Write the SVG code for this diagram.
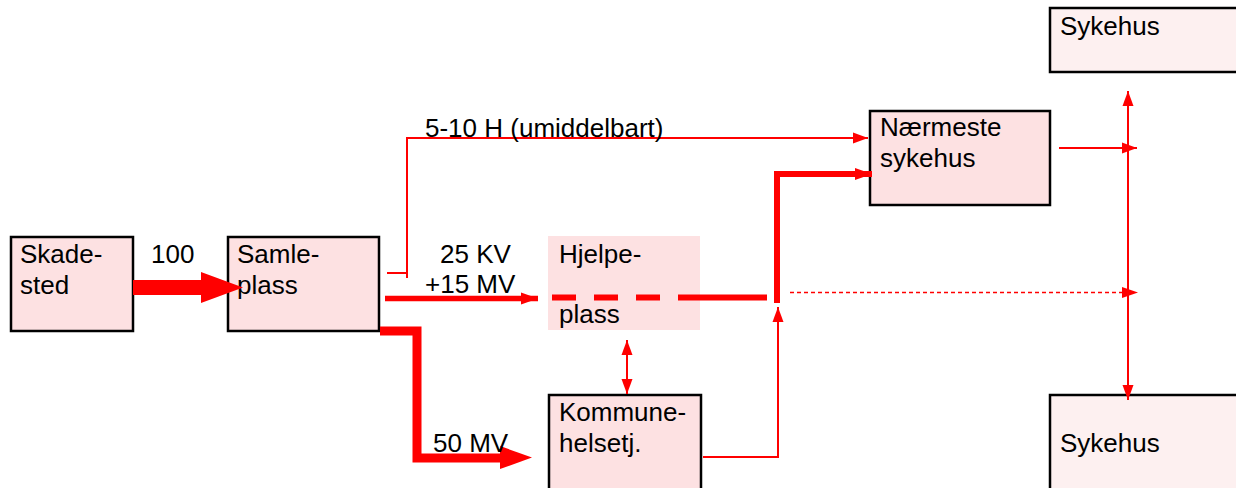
<svg xmlns="http://www.w3.org/2000/svg" width="1236" height="488" viewBox="0 0 1236 488">
<style>
.box{fill:#fde1e2;stroke:#000;stroke-width:2.5}
.boxl{fill:#fdf0f0;stroke:#000;stroke-width:2.5}
.t{font-family:"Liberation Sans",Arial,sans-serif;font-size:26px;fill:#000}
.r{fill:none;stroke:#ff0000;stroke-linejoin:miter}
</style>
<defs>
<marker id="ah" markerUnits="userSpaceOnUse" markerWidth="16" markerHeight="12" refX="15" refY="6" orient="auto-start-reverse"><path d="M0,0.5 L15,6 L0,11.5 z" fill="#ff0000"/></marker>
<marker id="ahm" markerUnits="userSpaceOnUse" markerWidth="18" markerHeight="13" refX="17" refY="6.5" orient="auto"><path d="M0,0.5 L17,6.5 L0,12.5 z" fill="#ff0000"/></marker>
</defs>
<rect width="1236" height="488" fill="#fff"/>

<g id="skadested"><rect class="box" x="11" y="237" width="122" height="94"/><text class="t" x="20" y="263">Skade-</text><text class="t" x="20" y="294">sted</text></g>
<g id="samleplass"><rect class="box" x="228" y="237" width="151" height="94"/><text class="t" x="237" y="263">Samle-</text><text class="t" x="237" y="294">plass</text></g>
<g id="hjelpeplass"><rect x="548" y="236" width="152" height="94" fill="#fde1e2"/><text class="t" x="559" y="263">Hjelpe-</text><text class="t" x="559" y="323">plass</text></g>
<g id="kommune"><rect class="box" x="549" y="395" width="152" height="100"/><text class="t" x="559" y="421">Kommune-</text><text class="t" x="559" y="452">helsetj.</text></g>
<g id="naermeste"><rect class="box" x="870" y="111" width="180" height="94"/><text class="t" x="880" y="136">Nærmeste</text><text class="t" x="880" y="167">sykehus</text></g>
<g id="sykehus1"><rect class="boxl" x="1050" y="8" width="200" height="64"/><text class="t" x="1060" y="35">Sykehus</text></g>
<g id="sykehus2"><rect class="boxl" x="1050" y="395" width="200" height="100"/><text class="t" x="1060" y="452">Sykehus</text></g>

<g id="connectors">
<path d="M133,280 H201 V272 L243,287.5 L201,303 V295 H133 z" fill="#ff0000"/>
<path class="r" stroke-width="2" d="M387,273 H407"/>
<path class="r" stroke-width="2" d="M407,278 V138 H868" marker-end="url(#ah)"/>
<path class="r" stroke-width="5.5" d="M385,298.5 H538" marker-end="url(#ahm)"/>
<path class="r" stroke-width="6" stroke-dasharray="24,18" d="M552,297.5 H695"/>
<path class="r" stroke-width="6" d="M695,297.5 H767"/>
<path class="r" stroke-width="1.5" stroke-dasharray="4,3" d="M790,292.5 H1125"/>
<path d="M1122,287 L1138,292.5 L1122,298 z" fill="#ff0000"/>
<path class="r" stroke-width="6" d="M777,303 V174 H872" marker-end="url(#ahm)"/>
<path class="r" stroke-width="9" d="M380,331 H417 V458 H505"/>
<path d="M500,446 L532,457.5 L500,469 z" fill="#ff0000"/>
<path class="r" stroke-width="2" d="M703,457 H778 V307" marker-end="url(#ah)"/>
<path class="r" stroke-width="2" d="M627,340 V394" marker-start="url(#ah)" marker-end="url(#ah)"/>
<path class="r" stroke-width="2" d="M1059,148 H1137" marker-end="url(#ah)"/>
<path class="r" stroke-width="2" d="M1128,91 V400" marker-start="url(#ah)" marker-end="url(#ah)"/>
</g>

<g id="labels">
<text class="t" x="151" y="263">100</text>
<text class="t" x="425" y="137">5-10 H (umiddelbart)</text>
<text class="t" x="440" y="263">25 KV</text>
<text class="t" x="425" y="293">+15 MV</text>
<text class="t" x="433" y="452">50 MV</text>
</g>
</svg>
